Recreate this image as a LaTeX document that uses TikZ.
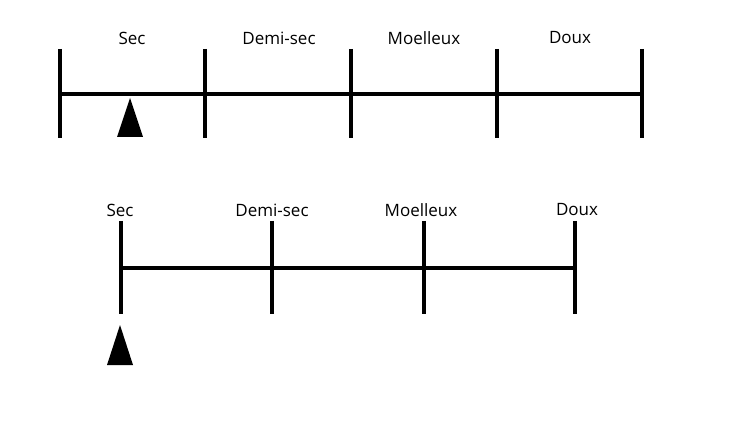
\documentclass[tikz,border=0pt]{standalone}
\usepackage{fontspec}
\setmainfont{Open Sans}
\usepackage{tikz}
\usetikzlibrary{positioning}

\begin{document}
\begin{tikzpicture}
[x=1pt,y=-1pt,line width=3.2pt,
    lab/.style={inner sep=0pt,font=\fontsize{17}{20}\selectfont},
    pointer/.style={fill=black,draw=none}]
\useasboundingbox (0,0) rectangle (734,422);

% upper scale
\coordinate (a0t) at (60,49);
\coordinate (a0b) at (60,138);
\coordinate (a1t) at (205,49);
\coordinate (a1b) at (205,138);
\coordinate (a2t) at (351,49);
\coordinate (a2b) at (351,138);
\coordinate (a3t) at (497,49);
\coordinate (a3b) at (497,138);
\coordinate (a4t) at (642,49);
\coordinate (a4b) at (642,138);
\coordinate (al) at (60,94);
\coordinate (ar) at (642,94);

\node[lab] (asec) at (132,38) {Sec};
\node[lab] (ademi) at (279,38) {Demi-sec};
\node[lab] (amoel) at (424,38) {Moelleux};
\node[lab] (adoux) at (570,38) {Doux};

\draw (a0t) -- (a0b);
\draw (a1t) -- (a1b);
\draw (a2t) -- (a2b);
\draw (a3t) -- (a3b);
\draw (a4t) -- (a4b);
\draw (al) -- (ar);
\fill[pointer] (130,98) -- (143,137) -- (117,137) -- cycle;

% lower scale
\coordinate (b0t) at (121,221);
\coordinate (b0b) at (121,314);
\coordinate (b1t) at (272,221);
\coordinate (b1b) at (272,314);
\coordinate (b2t) at (424,221);
\coordinate (b2b) at (424,314);
\coordinate (b3t) at (575,221);
\coordinate (b3b) at (575,314);
\coordinate (bl) at (121,268);
\coordinate (br) at (575,268);

\node[lab] (bsec) at (120,210) {Sec};
\node[lab] (bdemi) at (272,210) {Demi-sec};
\node[lab] (bmoel) at (421,210) {Moelleux};
\node[lab] (bdoux) at (577,210) {Doux};

\draw (b0t) -- (b0b);
\draw (b1t) -- (b1b);
\draw (b2t) -- (b2b);
\draw (b3t) -- (b3b);
\draw (bl) -- (br);
\fill[pointer] (120,325) -- (133,365) -- (107,365) -- cycle;
\end{tikzpicture}
\end{document}
